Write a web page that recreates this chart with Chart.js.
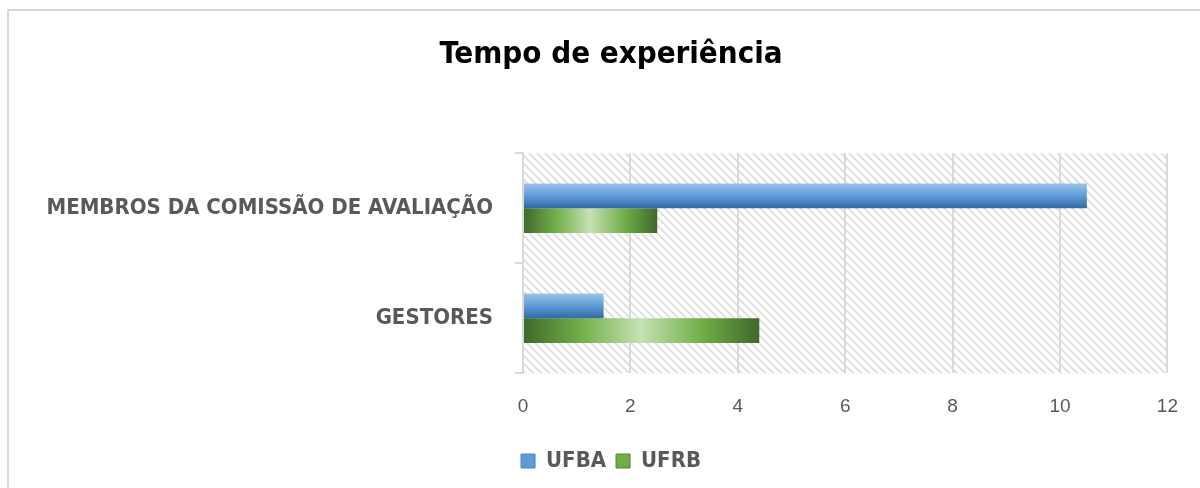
<!DOCTYPE html>
<html>
<head>
<meta charset="utf-8">
<script src="https://cdn.jsdelivr.net/npm/chart.js@4.4.1/dist/chart.umd.min.js"></script>
<style>
  html, body { margin: 0; padding: 0; background: #fff; }
  #wrap { width: 1200px; height: 488px; position: relative; }
</style>
</head>
<body>
<div id="wrap"><canvas id="chart" width="1200" height="488"></canvas></div>
<script>
// data
var categories = ["MEMBROS DA COMISSÃO DE AVALIAÇÃO", "GESTORES"];
var ufba = [10.5, 1.5];
var ufrb = [2.5, 4.4];
var xTicks = [0, 2, 4, 6, 8, 10, 12];

var narrow = "'Liberation Sans Narrow', 'DejaVu Sans Condensed', 'Liberation Sans', sans-serif";
var grey = "#595959";
var lineGrey = "#d9d9d9";
var padLeft = 47;

// diagonal hatch for the plot area
function makeHatch() {
  var c = document.createElement("canvas");
  c.width = 8; c.height = 8;
  var g = c.getContext("2d");
  g.fillStyle = "#fff";
  g.fillRect(0, 0, 8, 8);
  g.strokeStyle = "#dcdcdc";
  g.lineWidth = 1.7;
  g.beginPath();
  g.moveTo(-2, -2); g.lineTo(10, 10);
  g.moveTo(-2, 6); g.lineTo(2, 10);
  g.moveTo(6, -2); g.lineTo(10, 2);
  g.stroke();
  return c;
}

var backdrop = {
  id: "backdrop",
  beforeDraw: function(chart) {
    var c = chart.ctx, a = chart.chartArea;
    c.save();
    c.strokeStyle = lineGrey;
    c.lineWidth = 2;
    c.strokeRect(8, 10, 1400, 700);
    c.fillStyle = c.createPattern(makeHatch(), "repeat");
    c.fillRect(a.left, a.top, a.right - a.left, a.bottom - a.top);
    c.restore();
  }
};

function barSpan(chart, index, dsIndex) {
  var y = chart.scales.y, a = chart.chartArea;
  var cat = (a.bottom - a.top) / categories.length;
  var h = cat * 0.45 / 2;
  var yc = y.getPixelForValue(index);
  var top = yc - h + dsIndex * h;
  return [top, top + h];
}

function blueFill(ctx) {
  var chart = ctx.chart;
  if (!chart.chartArea) return "#5b9bd5";
  var s = barSpan(chart, ctx.dataIndex, 0);
  var g = chart.ctx.createLinearGradient(0, s[0], 0, s[1]);
  g.addColorStop(0, "#9cc3e8");
  g.addColorStop(0.5, "#5f9bd6");
  g.addColorStop(1, "#2f6aa6");
  return g;
}

function greenFill(ctx) {
  var chart = ctx.chart;
  if (!chart.chartArea) return "#70ad47";
  var x = chart.scales.x;
  var x0 = x.getPixelForValue(0), x1 = x.getPixelForValue(ctx.raw);
  var g = chart.ctx.createLinearGradient(x0, 0, x1, 0);
  g.addColorStop(0, "#41672a");
  g.addColorStop(0.25, "#72b04a");
  g.addColorStop(0.5, "#c6e1b3");
  g.addColorStop(0.75, "#72b04a");
  g.addColorStop(1, "#41672a");
  return g;
}

new Chart(document.getElementById("chart"), {
  type: "bar",
  data: {
    labels: categories,
    datasets: [
      { label: "UFBA", data: ufba, backgroundColor: blueFill },
      { label: "UFRB", data: ufrb, backgroundColor: greenFill }
    ]
  },
  options: {
    indexAxis: "y",
    responsive: false,
    animation: false,
    devicePixelRatio: 1,
    categoryPercentage: 0.45,
    barPercentage: 1.0,
    layout: { padding: { left: padLeft, right: 25, top: 0, bottom: 6 } },
    scales: {
      x: {
        min: 0,
        max: 12,
        afterBuildTicks: function(s) { s.ticks = xTicks.map(function(v) { return { value: v }; }); },
        grid: { color: lineGrey, lineWidth: 2, drawTicks: false },
        border: { display: false },
        ticks: { color: grey, padding: 22, font: { family: "'Liberation Sans', sans-serif", size: 19 } }
      },
      y: {
        afterFit: function(s) { s.width = 523 - padLeft; },
        grid: { color: lineGrey, lineWidth: 2, drawOnChartArea: false, tickLength: 8, offset: true },
        border: { color: lineGrey, width: 2 },
        ticks: { color: grey, padding: 22, font: { family: narrow, size: 22, weight: "bold" } }
      }
    },
    plugins: {
      title: {
        display: true,
        text: "Tempo de experiência",
        color: "#000",
        font: { family: narrow, size: 31, weight: "bold" },
        padding: { top: 36, bottom: 80 }
      },
      legend: {
        position: "bottom",
        labels: {
          color: grey,
          boxWidth: 14,
          boxHeight: 14,
          padding: 10,
          font: { family: narrow, size: 22, weight: "bold" },
          generateLabels: function(chart) {
            var fills = ["#5f9bd6", "#70ad47"];
            var strokes = ["#4a86c0", "#548235"];
            return chart.data.datasets.map(function(d, i) {
              return { text: d.label, fillStyle: fills[i], strokeStyle: strokes[i], lineWidth: 1, datasetIndex: i, fontColor: grey };
            });
          }
        }
      },
      tooltip: { enabled: false }
    }
  },
  plugins: [backdrop]
});
</script>
</body>
</html>
